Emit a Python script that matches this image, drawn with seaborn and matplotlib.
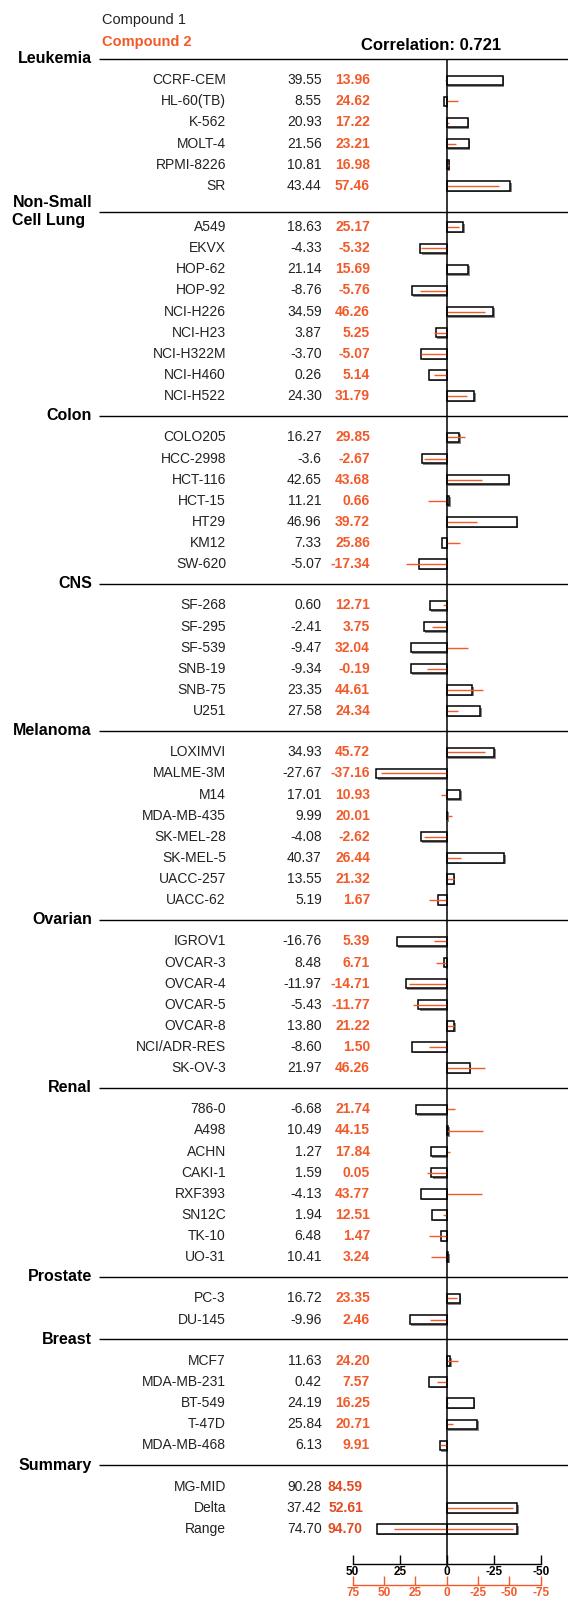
import numpy as np
import pandas as pd
import seaborn as sns
import matplotlib.pyplot as plt
import matplotlib.patheffects as pe

# ---- data ----
panels = ['Leukemia', 'Non-Small\nCell Lung', 'Colon', 'CNS', 'Melanoma',
          'Ovarian', 'Renal', 'Prostate', 'Breast']
panel_sizes = [6, 9, 7, 6, 8, 7, 8, 2, 5]

cell_lines = [
    'CCRF-CEM', 'HL-60(TB)', 'K-562', 'MOLT-4', 'RPMI-8226', 'SR',
    'A549', 'EKVX', 'HOP-62', 'HOP-92', 'NCI-H226', 'NCI-H23', 'NCI-H322M', 'NCI-H460', 'NCI-H522',
    'COLO205', 'HCC-2998', 'HCT-116', 'HCT-15', 'HT29', 'KM12', 'SW-620',
    'SF-268', 'SF-295', 'SF-539', 'SNB-19', 'SNB-75', 'U251',
    'LOXIMVI', 'MALME-3M', 'M14', 'MDA-MB-435', 'SK-MEL-28', 'SK-MEL-5', 'UACC-257', 'UACC-62',
    'IGROV1', 'OVCAR-3', 'OVCAR-4', 'OVCAR-5', 'OVCAR-8', 'NCI/ADR-RES', 'SK-OV-3',
    '786-0', 'A498', 'ACHN', 'CAKI-1', 'RXF393', 'SN12C', 'TK-10', 'UO-31',
    'PC-3', 'DU-145',
    'MCF7', 'MDA-MB-231', 'BT-549', 'T-47D', 'MDA-MB-468',
]
comp1_text = [
    '39.55', '8.55', '20.93', '21.56', '10.81', '43.44',
    '18.63', '-4.33', '21.14', '-8.76', '34.59', '3.87', '-3.70', '0.26', '24.30',
    '16.27', '-3.6', '42.65', '11.21', '46.96', '7.33', '-5.07',
    '0.60', '-2.41', '-9.47', '-9.34', '23.35', '27.58',
    '34.93', '-27.67', '17.01', '9.99', '-4.08', '40.37', '13.55', '5.19',
    '-16.76', '8.48', '-11.97', '-5.43', '13.80', '-8.60', '21.97',
    '-6.68', '10.49', '1.27', '1.59', '-4.13', '1.94', '6.48', '10.41',
    '16.72', '-9.96',
    '11.63', '0.42', '24.19', '25.84', '6.13',
]
comp2_text = [
    '13.96', '24.62', '17.22', '23.21', '16.98', '57.46',
    '25.17', '-5.32', '15.69', '-5.76', '46.26', '5.25', '-5.07', '5.14', '31.79',
    '29.85', '-2.67', '43.68', '0.66', '39.72', '25.86', '-17.34',
    '12.71', '3.75', '32.04', '-0.19', '44.61', '24.34',
    '45.72', '-37.16', '10.93', '20.01', '-2.62', '26.44', '21.32', '1.67',
    '5.39', '6.71', '-14.71', '-11.77', '21.22', '1.50', '46.26',
    '21.74', '44.15', '17.84', '0.05', '43.77', '12.51', '1.47', '3.24',
    '23.35', '2.46',
    '24.20', '7.57', '16.25', '20.71', '9.91',
]
summary_labels = ['MG-MID', 'Delta', 'Range']
summary_c1 = [90.28, 37.42, 74.70]
summary_c2 = [84.59, 52.61, 94.70]
correlation = 0.721

comp1 = np.array(comp1_text, dtype=float)
comp2 = np.array(comp2_text, dtype=float)

# ---- layout (pixels) ----
W, H = 568, 1597
X0 = 446.7            # pixel of the zero line
PXU = 94 / 50         # pixels per unit of compound 1 scale
RED_K = 50 / 75       # compound 2 scale relative to compound 1 scale
Y_FIRST, PITCH, GAP = 80.3, 21.1, 20.3
BAR_H = 9.5
RED = '#f25a2a'
RED_DARK = '#e24a1f'


def px(x):
    return (X0 - x) / PXU


all_panels = panels + ['Summary']
sizes = panel_sizes + [len(summary_labels)]
row_y, line_y = [], []
y = Y_FIRST
for k, n in enumerate(sizes):
    if k > 0:
        y += GAP
    line_y.append(y - (PITCH + GAP) / 2 - 1)
    for i in range(n):
        row_y.append(y)
        y += PITCH
cell_y = np.array(row_y[:len(cell_lines)])
sum_y = np.array(row_y[len(cell_lines):])

# deviations from the mean graph midpoint
dev1 = comp1.mean() - comp1
dev2 = (comp2.mean() - comp2) * RED_K
d_delta1, d_delta2 = summary_c1[1], summary_c2[1]
d_range1, d_range2 = summary_c1[2], summary_c2[2]

bars = pd.DataFrame({
    'y': list(cell_y) + [sum_y[1], sum_y[2], sum_y[2]],
    'x': list(dev1) + [-d_delta1, -d_delta1, d_range1 - d_delta1],
    'part': ['a'] * len(cell_y) + ['a', 'a', 'b'],
})
reds = pd.DataFrame({
    'y': list(cell_y) + [sum_y[1], sum_y[2], sum_y[2]],
    'x0': [0] * len(cell_y) + [0, 0, 0],
    'x1': list(dev2) + [-d_delta2 * RED_K, -d_delta2 * RED_K, (d_range2 - d_delta2) * RED_K],
})

plt.rcParams['font.family'] = ['Liberation Sans', 'DejaVu Sans']
plt.rcParams['axes.unicode_minus'] = False
fig = plt.figure(figsize=(W / 100, H / 100), dpi=100)
ax = fig.add_axes([0, 0, 1, 1])

sns.barplot(data=bars, x='x', y='y', hue='part', orient='h', native_scale=True,
            dodge=False, palette={'a': 'white', 'b': 'white'}, edgecolor='black',
            linewidth=1.1, width=BAR_H / PITCH, errorbar=None, legend=False, ax=ax)
for p in ax.patches:
    p.set_path_effects([pe.SimplePatchShadow(offset=(1.1, -1.1), shadow_rgbFace='0.35', alpha=0.7),
                        pe.Normal()])

ax.hlines(reds['y'], reds['x0'], reds['x1'], color=RED, lw=1.0, zorder=4)
ax.vlines(0, line_y[0], 1566, color='black', lw=1.1, zorder=5)

ax.set_xlim(px(0), px(W))
ax.set_ylim(H, 0)
ax.set_axis_off()

# panel headers
for lab, ly in zip(all_panels, line_y):
    off = 6 if '\n' in lab else 0
    ax.hlines(ly + off, px(99), px(W), color='black', lw=1.0)
    ax.text(px(92), ly + off, lab, ha='right', va='center', ma='left',
            fontsize=11.5, fontweight='bold', linespacing=1.2)

# row labels and values
for name, t1, t2, yy in zip(cell_lines, comp1_text, comp2_text, cell_y):
    ax.text(px(226), yy, name, ha='right', va='center', fontsize=10, color='#222222')
    ax.text(px(321.7), yy, t1, ha='right', va='center', fontsize=10, color='#222222')
    ax.text(px(370), yy, t2, ha='right', va='center', fontsize=10, color=RED, fontweight='bold')
for name, v1, v2, yy in zip(summary_labels, summary_c1, summary_c2, sum_y):
    ax.text(px(226), yy, name, ha='right', va='center', fontsize=10, color='#222222')
    ax.text(px(321.7), yy, f'{v1:.2f}', ha='right', va='center', fontsize=10, color='#222222')
    ax.text(px(363), yy, f'{v2:.2f}', ha='right', va='center', fontsize=10, color=RED_DARK,
            fontweight='bold', family=['Liberation Sans Narrow', 'Liberation Sans'])

ax.text(px(101.7), 20, 'Compound 1', ha='left', va='center', fontsize=10.5, color='#222222')
ax.text(px(101.7), 41.7, 'Compound 2', ha='left', va='center', fontsize=10.5,
        color=RED, fontweight='bold')
ax.text(px(430.7), 45.7, f'Correlation: {correlation}', ha='center', va='center',
        fontsize=12, fontweight='bold')

# scale axes at the bottom
for yline, lim, col in [(1564, 50, 'black'), (1585, 75, RED)]:
    sax = fig.add_axes([352.7 / W, (H - yline) / H, 188 / W, 0.0001])
    sax.set_xlim(lim, -lim)
    sax.set_xticks(np.arange(lim, -lim - 1, -25))
    sax.set_yticks([])
    sax.patch.set_visible(False)
    for s in ['top', 'left', 'right']:
        sax.spines[s].set_visible(False)
    sax.spines['bottom'].set_color(col)
    sax.spines['bottom'].set_linewidth(1.0)
    sax.tick_params(axis='x', direction='in', length=6.5, width=1.0, color=col,
                    labelcolor=col, labelsize=8.5, pad=1.5)
    for t in sax.get_xticklabels():
        t.set_fontweight('bold')
        t.set_family(['Liberation Sans Narrow', 'Liberation Sans'])

fig.savefig('out.png', dpi=100)
